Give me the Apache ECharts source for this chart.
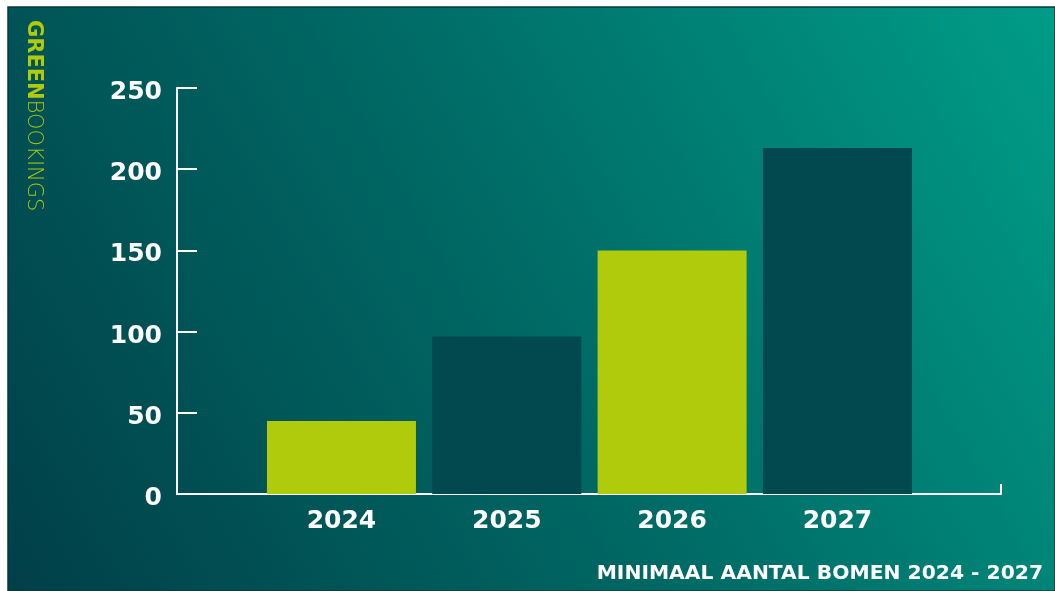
<!DOCTYPE html>
<html>
<head>
<meta charset="utf-8">
<script src="https://cdn.jsdelivr.net/npm/echarts@6/dist/echarts.min.js"></script>
<style>
  html, body { margin: 0; padding: 0; background: #fff; }
  #chart { width: 1055px; height: 591px; }
</style>
</head>
<body>
<div id="chart"></div>
<script>
// data
var years = ['2024', '2025', '2026', '2027'];
var trees = [45, 97, 150, 213];
var barColors = ['#b0ca0c', '#02484f', '#b0ca0c', '#02484f'];
var yTicks = [0, 50, 100, 150, 200, 250];

var labelFont = {
    color: '#ffffff',
    fontFamily: 'DejaVu Sans',
    fontWeight: 'bold',
    fontSize: 25
};

var chart = echarts.init(document.getElementById('chart'));

var option = {
    animation: false,
    backgroundColor: '#ffffff',
    graphic: [
        {
            type: 'rect',
            z: -10,
            shape: {x: 8, y: 7, width: 1047, height: 584},
            style: {
                fill: new echarts.graphic.LinearGradient(0, 1, 1, 0, [
                    {offset: 0, color: '#013f48'},
                    {offset: 0.5, color: '#006a65'},
                    {offset: 1, color: '#009d88'}
                ]),
                stroke: '#053a3a',
                lineWidth: 1.5
            }
        },
        {
            type: 'text',
            x: 44,
            y: 20,
            rotation: -Math.PI / 2,
            style: {
                text: '{g|GREEN}{b|BOOKINGS}',
                rich: {
                    g: {fontFamily: 'DejaVu Sans', fontWeight: 'bold', fontSize: 21, fill: '#b0ca0c'},
                    b: {fontFamily: 'DejaVu Sans', fontWeight: 200, fontSize: 21, fill: '#a7c40e'}
                }
            }
        },
        {
            type: 'text',
            right: 12,
            top: 564,
            style: {
                text: 'MINIMAAL AANTAL BOMEN 2024 - 2027',
                fill: '#ffffff',
                font: 'bold 20.3px "DejaVu Sans"'
            }
        }
    ],
    grid: [
        {left: 177, top: 88, width: 824, height: 406},
        {left: 258.8, top: 88, width: 661.3, height: 406}
    ],
    xAxis: [
        {
            type: 'value',
            gridIndex: 0,
            min: 0,
            max: 1,
            interval: 1,
            axisLine: {show: true, lineStyle: {color: '#ffffff', width: 2}},
            axisTick: {show: true, inside: true, length: 10, lineStyle: {color: '#ffffff', width: 2}},
            axisLabel: {show: false},
            splitLine: {show: false}
        },
        {
            type: 'category',
            gridIndex: 1,
            data: years,
            axisLine: {show: false},
            axisTick: {show: false},
            axisLabel: Object.assign({margin: 15}, labelFont)
        }
    ],
    yAxis: [
        {
            type: 'value',
            gridIndex: 0,
            min: yTicks[0],
            max: yTicks[yTicks.length - 1],
            interval: 50,
            axisLine: {show: true, lineStyle: {color: '#ffffff', width: 2}},
            axisTick: {show: true, inside: true, length: 20, lineStyle: {color: '#ffffff', width: 2}},
            axisLabel: {
                margin: 15,
                formatter: '{v|{value}}',
                rich: {
                    v: Object.assign({lineHeight: 34, verticalAlign: 'bottom'}, labelFont)
                }
            },
            splitLine: {show: false}
        },
        {
            type: 'value',
            gridIndex: 1,
            min: 0,
            max: 250,
            show: false
        }
    ],
    series: [
        {
            type: 'bar',
            xAxisIndex: 1,
            yAxisIndex: 1,
            barWidth: 149,
            z: 1,
            data: trees.map(function (v, i) {
                return {value: v, itemStyle: {color: barColors[i]}};
            })
        }
    ]
};

chart.setOption(option);
</script>
</body>
</html>
